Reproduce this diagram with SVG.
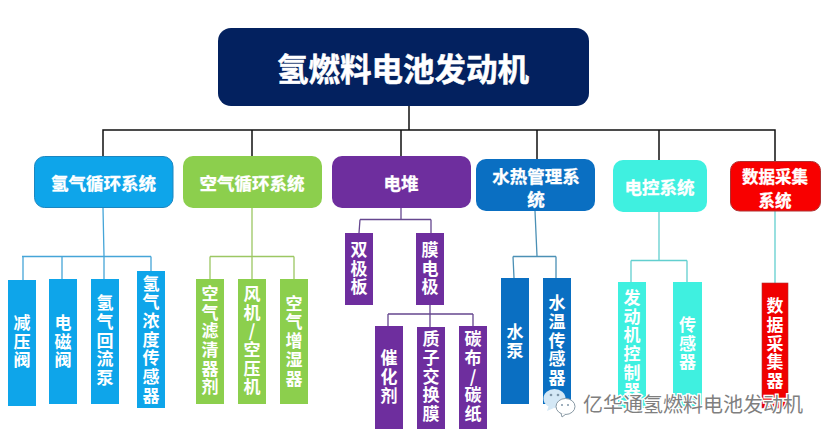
<svg xmlns="http://www.w3.org/2000/svg" width="828" height="440" viewBox="0 0 828 440">
<style>
text{font-family:"Noto Sans CJK SC","Liberation Sans",sans-serif;font-weight:700;fill:#fff;text-anchor:middle}
.h{font-size:17.5px;dominant-baseline:central;stroke:#fff;stroke-width:.3px}
.l{font-size:17px;writing-mode:vertical-rl;text-orientation:upright;letter-spacing:1.700px}
.c{fill:none;stroke-width:1.3}
.k{stroke:#111;stroke-width:1.5}
</style>
<rect width="828" height="440" fill="#fff"/>
<g id="connectors">
<path class="c k" d="M409 106V130M103 156V130H775V161M252 130V156M401 130V156M537 130V159M659 130V160"/>
<path class="c" stroke="#45a5d8" d="M103 208L104 256M22 256.500H151M23 256.500V280M62 256.500V279M104 256.500V279M151 256.500V271"/>
<path class="c" stroke="#9cc763" d="M252 208V279M210 256.500H294M210 256.500V279M294 256.500V279"/>
<path class="c" stroke="#66478f" d="M401 208V219M360 219.500H431M360 219.500L359 233M431 219.500V233M430 305V327M388 314H473M388 314V326M473 314V326"/>
<path class="c" stroke="#4b90b5" d="M535 211L537 256M513 256.500H556M513 256.500L514 278M556 256.500V278"/>
<path class="c" stroke="#62cfcf" d="M659 212V260M631 260.500H687M631 260.500V282M687 260.500V282M775 211V283"/>
</g>
<g id="root"><rect x="218" y="28" width="371" height="78" rx="13" fill="#03215f"/><text x="403" y="67" font-size="31.500" dominant-baseline="central" stroke="#fff" stroke-width=".5">氢燃料电池发动机</text></g>
<g id="n-h2"><rect x="34.500" y="156.500" width="138.500" height="51" rx="10" fill="#0ea5ea" stroke="#1b86c0"/><text class="h" x="103.500" y="182">氢气循环系统</text></g>
<g id="n-air"><rect x="183" y="156" width="139" height="52" rx="10" fill="#8ccf4d"/><text class="h" x="252" y="182">空气循环系统</text></g>
<g id="n-stack"><rect x="332" y="156" width="139" height="52" rx="10" fill="#6e2e9e"/><text class="h" x="401" y="182">电堆</text></g>
<g id="n-water"><rect x="476" y="159" width="119" height="52" rx="10" fill="#0a6fc2"/><text class="h"><tspan x="536" y="174.500">水热管理系</tspan><tspan x="536" y="197.500">统</tspan></text></g>
<g id="n-ctrl"><rect x="613" y="160" width="94" height="52" rx="10" fill="#3ff0e0"/><text class="h" x="659.500" y="186">电控系统</text></g>
<g id="n-data"><rect x="730.500" y="161.500" width="90" height="49.500" rx="9" fill="#f80000" stroke="#b03030"/><text class="h" style="font-size:16.500px"><tspan x="775" y="175.500">数据采集</tspan><tspan x="775" y="199.500">系统</tspan></text></g>

<g id="l-jyf"><rect x="8" y="280" width="28" height="126" fill="#0ea5ea"/><text class="l" x="22" y="342">减压阀</text></g>
<g id="l-dcf"><rect x="49" y="279" width="28" height="125" fill="#0ea5ea"/><text class="l" x="63" y="342">电磁阀</text></g>
<g id="l-hlb"><rect x="91" y="279" width="28" height="125" fill="#0ea5ea"/><text class="l" x="105" y="341">氢气回流泵</text></g>
<g id="l-nd"><rect x="137" y="271" width="28" height="137" fill="#0ea5ea"/><text class="l" x="151" y="340">氢气浓度传感器</text></g>

<g id="l-lq"><rect x="196" y="279" width="28" height="125" fill="#8ccf4d"/><text class="l" x="210" y="341">空气滤清器剂</text></g>
<g id="l-fj"><rect x="238" y="279" width="28" height="125" fill="#8ccf4d"/><text class="l" x="252" y="341">风机/空压机</text></g>
<g id="l-zs"><rect x="280" y="279" width="28" height="125" fill="#8ccf4d"/><text class="l" x="294" y="341.500">空气增湿器</text></g>

<g id="l-sjb"><rect x="345" y="233" width="28" height="72" fill="#6e2e9e"/><text class="l" x="359" y="269">双极板</text></g>
<g id="l-mdj"><rect x="416" y="233" width="28" height="72" fill="#6e2e9e"/><text class="l" x="430" y="269">膜电极</text></g>
<g id="l-chj"><rect x="375" y="326" width="28" height="103" fill="#6e2e9e"/><text class="l" x="389" y="377.500">催化剂</text></g>
<g id="l-zz"><rect x="417" y="327" width="28" height="102" fill="#6e2e9e"/><text class="l" x="431" y="377">质子交换膜</text></g>
<g id="l-tb"><rect x="459" y="326" width="28" height="103" fill="#6e2e9e"/><text class="l" x="473" y="377">碳布/碳纸</text></g>

<g id="l-sb"><rect x="501" y="278" width="28" height="126" fill="#0a6fc2"/><text class="l" x="515" y="342">水泵</text></g>
<g id="l-sw"><rect x="543" y="278" width="28" height="126" fill="#0a6fc2"/><text class="l" x="557" y="341">水温传感器</text></g>

<g id="l-fdj"><rect x="618" y="282" width="28" height="126" fill="#3ff0e0"/><text class="l" x="632" y="345">发动机控制器</text></g>
<g id="l-cgq"><rect x="673" y="282" width="29" height="126" fill="#3ff0e0"/><text class="l" x="687.500" y="344">传感器</text></g>
<g id="l-sjq"><rect x="762" y="283" width="26" height="125" fill="#f00000" stroke="#b03030" stroke-width=".6"/><text class="l" x="775" y="344">数据采集器</text></g>

<g id="watermark">
<ellipse cx="554.500" cy="398.500" rx="11" ry="9.500" fill="#d4e8f6"/>
<path d="M549 405l-2 6 7-3z" fill="#d4e8f6"/>
<ellipse cx="565.500" cy="406.500" rx="9.500" ry="8" fill="#fff" stroke="#8a9aa5"/>
<path d="M561 413l1 4 4-3" fill="#fff" stroke="#8a9aa5"/>
<circle cx="551" cy="395" r="1.300" fill="#7f96a8"/><circle cx="558" cy="395" r="1.300" fill="#7f96a8"/>
<circle cx="562" cy="405" r="1" fill="#7f96a8"/><circle cx="568" cy="405" r="1" fill="#7f96a8"/>
<text x="693" y="403" font-size="20" dominant-baseline="central" style="font-weight:400;fill:#7f7f7f;paint-order:stroke;stroke:#fff;stroke-width:2.500px">亿华通氢燃料电池发动机</text>
</g>
</svg>
